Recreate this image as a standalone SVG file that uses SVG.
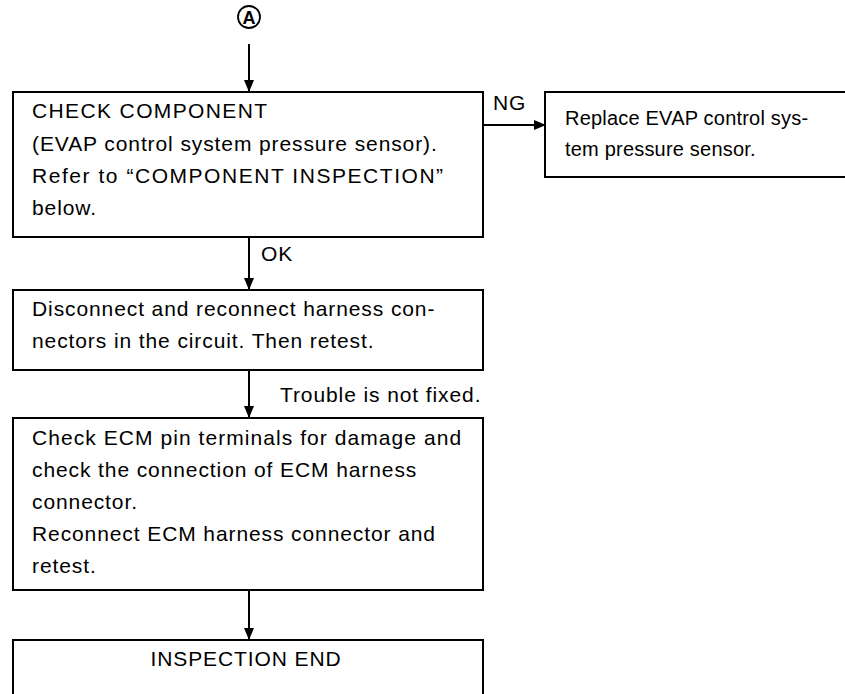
<svg xmlns="http://www.w3.org/2000/svg" width="845" height="694" viewBox="0 0 845 694">
<defs>
<style>
.box{fill:#fff;stroke:#000;stroke-width:2}
.t{font-family:"Liberation Sans",Arial,sans-serif;font-size:21px;letter-spacing:0.9px;fill:#000}
.s{font-size:20px;letter-spacing:0.2px}
.ln{stroke:#000;stroke-width:2;fill:none}
</style>
<marker id="ah" markerWidth="12" markerHeight="12" refX="11" refY="6" orient="auto" markerUnits="userSpaceOnUse" viewBox="0 0 12 12">
<path d="M0,1 L12,6 L0,11 z" fill="#000"/>
</marker>
</defs>
<rect width="845" height="694" fill="#fff"/>
<g id="start">
<circle cx="249" cy="17" r="11" fill="#fff" stroke="#000" stroke-width="1.8"/>
<text x="249" y="24" text-anchor="middle" font-family="Liberation Sans,Arial,sans-serif" font-size="18" font-weight="bold">A</text>
</g>
<g id="connectors">
<line class="ln" x1="249" y1="44" x2="249" y2="91" marker-end="url(#ah)"/>
<line class="ln" x1="483" y1="125" x2="545" y2="125" marker-end="url(#ah)"/>
<line class="ln" x1="249" y1="237" x2="249" y2="289" marker-end="url(#ah)"/>
<line class="ln" x1="249" y1="370" x2="249" y2="417" marker-end="url(#ah)"/>
<line class="ln" x1="249" y1="590" x2="249" y2="639" marker-end="url(#ah)"/>
<text class="t" x="493" y="110">NG</text>
<text class="t" x="261" y="261">OK</text>
<text class="t" x="280" y="402">Trouble is not fixed.</text>
</g>
<g id="n1">
<rect class="box" x="13" y="92" width="470" height="145"/>
<text class="t" x="32" y="118" textLength="236">CHECK COMPONENT</text>
<text class="t" x="32" y="151">(EVAP control system pressure sensor).</text>
<text class="t" x="32" y="183" textLength="412">Refer to “COMPONENT INSPECTION”</text>
<text class="t" x="32" y="215">below.</text>
</g>
<g id="n2">
<rect class="box" x="545" y="92" width="310" height="85"/>
<text class="t s" x="565" y="125">Replace EVAP control sys-</text>
<text class="t s" x="565" y="156">tem pressure sensor.</text>
</g>
<g id="n3">
<rect class="box" x="13" y="290" width="470" height="80"/>
<text class="t" x="32" y="316">Disconnect and reconnect harness con-</text>
<text class="t" x="32" y="348">nectors in the circuit. Then retest.</text>
</g>
<g id="n4">
<rect class="box" x="13" y="418" width="470" height="172"/>
<text class="t" x="32" y="445" textLength="430">Check ECM pin terminals for damage and</text>
<text class="t" x="32" y="477">check the connection of ECM harness</text>
<text class="t" x="32" y="509">connector.</text>
<text class="t" x="32" y="541">Reconnect ECM harness connector and</text>
<text class="t" x="32" y="573">retest.</text>
</g>
<g id="n5">
<rect class="box" x="13" y="640" width="470" height="70"/>
<text class="t" x="246" y="666" text-anchor="middle">INSPECTION END</text>
</g>
</svg>
